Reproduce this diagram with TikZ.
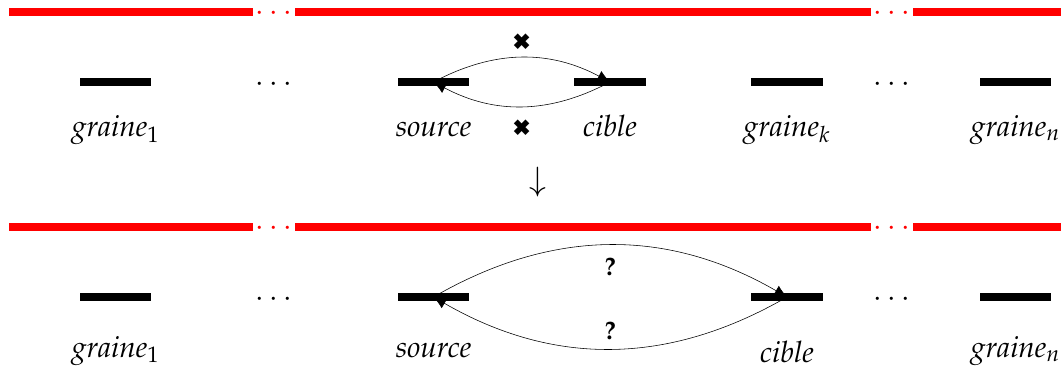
\documentclass[tikz,border=0pt]{standalone}
\usepackage[T1]{fontenc}
\usepackage{mathpazo}
\usepackage{pifont}
\usetikzlibrary{positioning,arrows.meta}

\tikzset{
  grain/.style={fill=black,inner sep=0pt,minimum width=50.5pt,minimum height=5.2pt},
  lbl/.style={font=\fontsize{21}{25}\selectfont,anchor=base},
  redline/.style={red,line width=5.7pt},
  dots/.style={font=\fontsize{21}{25}\selectfont,inner sep=0pt},
  arc/.style={-{Latex[length=9pt,width=8pt]},thin},
  mark x/.style={font=\fontsize{16}{18}\selectfont},
  query/.style={font=\fontsize{18}{20}\selectfont\bfseries},
}

\begin{document}
\begin{tikzpicture}[x=0.025cm,y=-0.025cm,node distance=36pt]
\useasboundingbox (0,0) rectangle (1061,369);
% top row
\draw[redline] (9,12) -- (253,12);
\draw[redline] (295,12) -- (871,12);
\draw[redline] (913,12) -- (1061,12);
\node[dots,red] at (274,14) {$\cdots$};
\node[dots,red] at (891.5,14) {$\cdots$};
\node[grain] (g1) at (115.5,82) {};
\node[grain] (src) at (433.5,82) {};
\node[grain] (cib) at (610,82) {};
\node[grain] (gk) at (787,82) {};
\node[grain] (gn) at (1015.5,82) {};
\node[dots] at (274,85) {$\cdots$};
\node[dots] at (891.5,85) {$\cdots$};
\node[below=of g1,lbl] (l1) {\textit{graine}$_1$};
\node[below=of src,lbl] (ls) {\textit{source}};
\node[below=of cib,lbl] (lc) {\textit{cible}};
\node[below=of gk,lbl] (lk) {\textit{graine}$_k$};
\node[below=of gn,lbl] (ln) {\textit{graine}$_n$};
\draw[arc] (src.center) to[bend left=28] node[above=2pt,mark x] {\ding{54}} (cib.center);
\draw[arc] (cib.center) to[bend left=28] node[below=6pt,mark x] {\ding{54}} (src.center);
% transformation
\node[font=\fontsize{23}{27}\selectfont] (down) at (538,182) {$\downarrow$};
% bottom row
\draw[redline] (9,227) -- (253,227);
\draw[redline] (295,227) -- (871,227);
\draw[redline] (913,227) -- (1061,227);
\node[dots,red] at (274,229) {$\cdots$};
\node[dots,red] at (891.5,229) {$\cdots$};
\node[grain] (g1b) at (115.5,297) {};
\node[grain] (srcb) at (433.5,297) {};
\node[grain] (cibb) at (787,297) {};
\node[grain] (gnb) at (1015.5,297) {};
\node[dots] at (274,300) {$\cdots$};
\node[dots] at (891.5,300) {$\cdots$};
\node[below=40pt of g1b,lbl] (l1b) {\textit{graine}$_1$};
\node[below=40pt of srcb,lbl] (lsb) {\textit{source}};
\node[below=43.5pt of cibb,lbl] (lcb) {\textit{cible}};
\node[below=40pt of gnb,lbl] (lnb) {\textit{graine}$_n$};
\draw[arc] (srcb.center) to[bend left=30] node[below=5pt,query] {?} (cibb.center);
\draw[arc] (cibb.center) to[bend left=30] node[above=3pt,query] {?} (srcb.center);
\end{tikzpicture}
\end{document}
